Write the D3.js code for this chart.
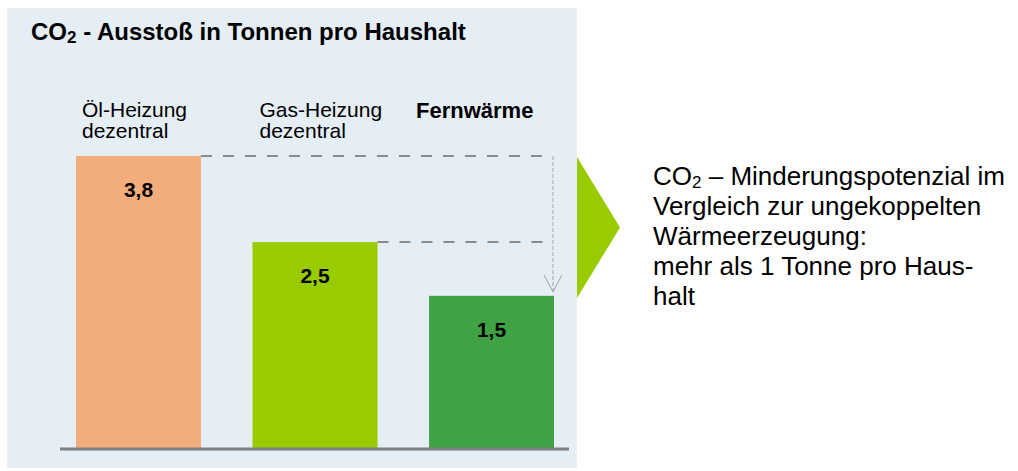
<!DOCTYPE html>
<html>
<head>
<meta charset="utf-8">
<script src="https://cdn.jsdelivr.net/npm/d3@7"></script>
<style>
  body { margin: 0; background: #fff; }
  svg text { font-family: Arial, "Liberation Sans", sans-serif; fill: #000; }
</style>
</head>
<body>
<div id="chart"></div>
<script>
//-- DATA --\\
var categories = ["Öl-Heizung", "Gas-Heizung", "Fernwärme"];
var catLines = [["Öl-Heizung", "dezentral"], ["Gas-Heizung", "dezentral"], ["Fernwärme"]];
var values = [3.8, 2.5, 1.5];           // printed values
var barLevels = [3.8, 2.68, 1.98];      // heights as drawn in the picture
var valueLabels = ["3,8", "2,5", "1,5"];
var barColors = ["#F3AD7B", "#99CC00", "#3FA245"];
var noteLines = ["Vergleich zur ungekoppelten", "Wärmeerzeugung:", "mehr als 1 Tonne pro Haus-", "halt"];

//-- LAYOUT --\\
var width = 1018, height = 471;
var panel = {x: 7, y: 8, w: 570, h: 460};
var baseY = 448;

var svg = d3.select("#chart").append("svg")
    .attr("width", width)
    .attr("height", height);

// background panel
svg.append("rect")
    .attr("x", panel.x).attr("y", panel.y)
    .attr("width", panel.w).attr("height", panel.h)
    .attr("fill", "#E5EDF5");

var x = d3.scaleBand()
    .domain(categories)
    .range([76, 554])
    .paddingInner(0.292)
    .paddingOuter(0);

var y = d3.scaleLinear()
    .domain([0, 3.8])
    .range([baseY, 156]);

// title
var title = svg.append("text")
    .attr("x", 31).attr("y", 40)
    .style("font-size", "24px")
    .style("font-weight", "bold");
title.append("tspan").text("CO");
title.append("tspan").attr("dy", 3).style("font-size", "17px").text("2");
title.append("tspan").attr("dy", -3).text(" - Ausstoß in Tonnen pro Haushalt");

// bars
svg.selectAll("rect.bar")
    .data(categories)
    .enter().append("rect")
    .attr("class", "bar")
    .attr("x", function (d) { return x(d); })
    .attr("y", function (d, i) { return y(barLevels[i]); })
    .attr("width", x.bandwidth())
    .attr("height", function (d, i) { return baseY - y(barLevels[i]); })
    .attr("fill", function (d, i) { return barColors[i]; });

// value labels
svg.selectAll("text.val")
    .data(categories)
    .enter().append("text")
    .attr("class", "val")
    .attr("x", function (d) { return x(d) + x.bandwidth() / 2; })
    .attr("y", function (d, i) { return y(barLevels[i]) + 41; })
    .attr("text-anchor", "middle")
    .style("font-size", "21px")
    .style("font-weight", "bold")
    .text(function (d, i) { return valueLabels[i]; });

// category labels
var catX = [x(categories[0]) + 6, x(categories[1]) + 7, x(categories[2]) - 13];
catLines.forEach(function (lines, i) {
    var bold = lines.length === 1;
    var t = svg.append("text")
        .attr("x", catX[i])
        .attr("y", bold ? 118 : 117)
        .style("font-size", bold ? "22px" : "21px")
        .style("font-weight", bold ? "bold" : "normal");
    lines.forEach(function (l, j) {
        t.append("tspan").attr("x", catX[i]).attr("dy", j === 0 ? 0 : 21).text(l);
    });
});

// baseline
svg.append("line")
    .attr("x1", 60).attr("x2", 569)
    .attr("y1", baseY + 1).attr("y2", baseY + 1)
    .attr("stroke", "#808080")
    .attr("stroke-width", 3);

// dashed guides
var rightX = 553;
svg.append("line")
    .attr("x1", x(categories[0]) + x.bandwidth()).attr("x2", rightX)
    .attr("y1", y(barLevels[0])).attr("y2", y(barLevels[0]))
    .attr("stroke", "#8C8C8C").attr("stroke-width", 2)
    .attr("stroke-dasharray", "11,11");
svg.append("line")
    .attr("x1", x(categories[1]) + x.bandwidth()).attr("x2", 545)
    .attr("y1", y(barLevels[1])).attr("y2", y(barLevels[1]))
    .attr("stroke", "#8C8C8C").attr("stroke-width", 2)
    .attr("stroke-dasharray", "11,11");

// vertical arrow to Fernwärme
var arrowEnd = y(barLevels[2]) - 4;
svg.append("line")
    .attr("x1", rightX).attr("x2", rightX)
    .attr("y1", y(barLevels[0])).attr("y2", arrowEnd)
    .attr("stroke", "#A0A4A8").attr("stroke-width", 1)
    .attr("stroke-dasharray", "4,2");
svg.append("path")
    .attr("d", d3.line()([[rightX - 9, arrowEnd - 17], [rightX, arrowEnd], [rightX + 9, arrowEnd - 17]]))
    .attr("fill", "none")
    .attr("stroke", "#A0A4A8")
    .attr("stroke-width", 1);

// green chevron
svg.append("path")
    .attr("d", d3.line()([[577, 157], [620, 227.5], [577, 298]]) + "Z")
    .attr("fill", "#99CC00");

// note text
var note = svg.append("text")
    .attr("x", 653).attr("y", 185)
    .style("font-size", "26px");
note.append("tspan").text("CO");
note.append("tspan").attr("dy", 3).style("font-size", "17px").text("2");
note.append("tspan").attr("dy", -3).text(" – Minderungspotenzial im");
noteLines.forEach(function (l, i) {
    svg.append("text")
        .attr("x", 653)
        .attr("y", 185 + 30 * (i + 1))
        .style("font-size", "26px")
        .text(l);
});
</script>
</body>
</html>
